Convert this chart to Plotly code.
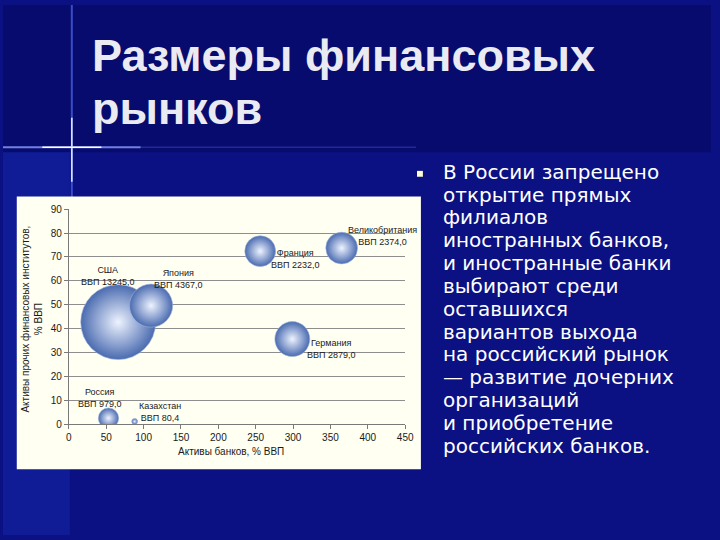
import plotly.graph_objects as go

# ---- data ----
countries = ["США", "Япония", "Франция", "Великобритания", "Германия", "Россия", "Казахстан"]
bank_assets = [66, 110, 256, 365, 299, 53, 88]          # Активы банков, % ВВП
other_assets = [42.7, 49.6, 72.4, 73.7, 35.6, 2.5, 1.1]  # Активы прочих фин. институтов, % ВВП
gdp = [13245.0, 4367.0, 2232.0, 2374.0, 2879.0, 979.0, 80.4]
x_ticks = [0, 50, 100, 150, 200, 250, 300, 350, 400, 450]
y_ticks = [0, 10, 20, 30, 40, 50, 60, 70, 80, 90]

title_lines = ["Размеры финансовых", "рынков"]
body_lines = [
    "В России запрещено",
    "открытие прямых",
    "филиалов",
    "иностранных банков,",
    "и иностранные банки",
    "выбирают среди",
    "оставшихся",
    "вариантов выхода",
    "на российский рынок",
    "— развитие дочерних",
    "организаций",
    "и приобретение",
    "российских банков.",
]

# label offsets in px (style)
label_shift = {
    "США": (-10, 46), "Япония": (27, 27), "Франция": (35, -8),
    "Великобритания": (41, 12), "Германия": (39, -9.5),
    "Россия": (-8, 20), "Казахстан": (25, 9),
}

W, H = 720, 540
def px(x): return x / W
def py(y): return 1 - y / H

fig = go.Figure()
fig.add_trace(go.Scatter(
    x=bank_assets, y=other_assets, mode="markers",
    marker=dict(size=gdp, sizemode="area", sizeref=max(gdp) / 53 ** 2,
                color="#4a6bb0", opacity=1,
                gradient=dict(type="radial", color="#eef3ff"),
                line=dict(width=0.6, color="#9fb2dc")),
    hoverinfo="skip", showlegend=False,
))

ann = []
for c, xv, yv, g in zip(countries, bank_assets, other_assets, gdp):
    dx, dy = label_shift[c]
    ann.append(dict(x=xv, y=yv, xref="x", yref="y", showarrow=False,
                    text=f"{c}<br>ВВП {g:.1f}".replace(".", ","),
                    xshift=dx, yshift=dy, xanchor="center", yanchor="middle",
                    align="center", font=dict(family="Liberation Sans", size=9, color="#1a1a1a")))

# axis titles
ann.append(dict(x=px(232), y=py(455), xref="paper", yref="paper", showarrow=False,
                text="Активы банков, % ВВП", xanchor="center", yanchor="middle",
                font=dict(family="Liberation Sans", size=10, color="#1a1a1a")))
ann.append(dict(x=px(30), y=py(320), xref="paper", yref="paper", showarrow=False,
                text="Активы прочих финансовых институтов,<br>% ВВП", textangle=-90,
                xanchor="center", yanchor="middle", align="center",
                font=dict(family="Liberation Sans", size=10, color="#1a1a1a")))

# title
title_y = [51, 105]
for t, yy in zip(title_lines, title_y):
    ann.append(dict(x=px(88), y=py(yy), xref="paper", yref="paper", showarrow=False,
                    text=f"<b>{t}</b>", xanchor="left", yanchor="middle",
                    font=dict(family="Liberation Sans", size=45, color="#eaeaf2")))

# body text
for i, t in enumerate(body_lines):
    ann.append(dict(x=px(445), y=py(170 + i * 23.25), xref="paper", yref="paper", showarrow=False,
                    text=t, xanchor="left", yanchor="middle",
                    font=dict(family="DejaVu Sans", size=20, color="#ffffff")))

shapes = [
    # slide background tint
    dict(type="rect", xref="paper", yref="paper", x0=0, x1=1, y0=py(150), y1=1,
         fillcolor="#06085e", line=dict(width=0), layer="below", opacity=0.55),
    dict(type="rect", xref="paper", yref="paper", x0=0, x1=px(68), y0=0, y1=py(150),
         fillcolor="#1428a8", line=dict(width=0), layer="below", opacity=0.5),
    # glow lines
    dict(type="line", xref="paper", yref="paper", x0=px(70), x1=px(70), y0=py(0), y1=py(300),
         line=dict(color="#5a78ff", width=2), layer="below", opacity=0.6),
    dict(type="line", xref="paper", yref="paper", x0=px(70), x1=px(70), y0=py(115), y1=py(180),
         line=dict(color="#e8eeff", width=1.5), layer="below"),
    dict(type="line", xref="paper", yref="paper", x0=px(0), x1=px(140), y0=py(145), y1=py(145),
         line=dict(color="#8aa0ff", width=2), layer="below", opacity=0.8),
    dict(type="line", xref="paper", yref="paper", x0=px(40), x1=px(100), y0=py(145), y1=py(145),
         line=dict(color="#ffffff", width=1.5), layer="below"),
    dict(type="line", xref="paper", yref="paper", x0=px(140), x1=px(420), y0=py(145), y1=py(145),
         line=dict(color="#3040c0", width=1.5), layer="below", opacity=0.6),
    # chart frame
    dict(type="rect", xref="paper", yref="paper", x0=px(14), x1=px(425), y0=py(473), y1=py(195),
         fillcolor="#fffff2", line=dict(width=0), layer="below"),
    # bullet
    dict(type="rect", xref="paper", yref="paper", x0=px(421), x1=px(427), y0=py(175), y1=py(169),
         fillcolor="#ffffd0", line=dict(width=0), layer="above"),
]

tickfont = dict(family="Liberation Sans", size=10, color="#1a1a1a")
fig.update_layout(
    width=W, height=H, margin=dict(l=0, r=0, t=0, b=0),
    paper_bgcolor="#0b1182", plot_bgcolor="#dcdcdc",
    xaxis=dict(domain=[px(67), px(409)], range=[0, 450], tickvals=x_ticks,
               showgrid=False, zeroline=False, showline=True, linecolor="#7a7a7a",
               ticks="outside", ticklen=4, tickcolor="#7a7a7a", tickfont=tickfont),
    yaxis=dict(domain=[py(427), py(208)], range=[0, 90], tickvals=y_ticks,
               showgrid=True, gridcolor="#8e8e8e", gridwidth=1, zeroline=False,
               showline=True, linecolor="#7a7a7a",
               ticks="outside", ticklen=4, tickcolor="#7a7a7a", tickfont=tickfont),
    annotations=ann, shapes=shapes,
)

fig.write_html(
    "out.html", config={"displayModeBar": False},
    post_script=(
        "var d=document.documentElement,b=document.body;"
        "d.style.margin='0';d.style.overflow='hidden';d.style.height='540px';"
        "b.style.margin='0';b.style.overflow='hidden';b.style.height='540px';"
        "b.style.background='#0b1182';"
    ),
)
